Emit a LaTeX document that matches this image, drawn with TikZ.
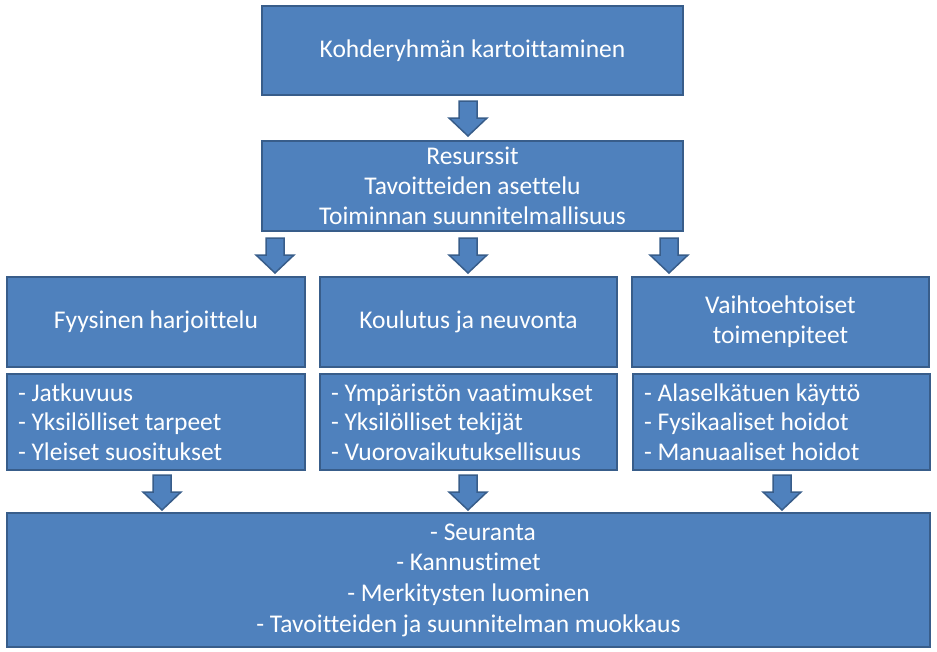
\documentclass[tikz,border=0pt]{standalone}
\usepackage{fontspec}
\setmainfont{Carlito}[Ligatures=CommonOff]
\usetikzlibrary{calc}
\definecolor{boxfill}{HTML}{4F81BD}
\definecolor{boxline}{HTML}{385D8A}
\begin{document}
\begin{tikzpicture}[x=1pt,y=-1pt,
  box/.style={draw=boxline, fill=boxfill, line width=2pt, text=white,
    font=\fontsize{25.5}{29.7}\selectfont, inner sep=0pt, align=center},
  listbox/.style={box, align=flush left, inner xsep=11pt, inner ysep=0pt},
  blockarrow/.pic={\draw[draw=boxline, fill=boxfill, line width=1.5pt, line join=miter]
    (-9,0)--(9,0)--(9,17)--(19,17)--(0,35)--(-19,17)--(-9,17)--cycle;}]
\useasboundingbox (0,0) rectangle (937,651);
% boxes
\node[box, minimum width=421pt, minimum height=89pt] (top) at (472.5,50.5) {Kohderyhmän kartoittaminen};
\node[box, minimum width=421pt, minimum height=90pt] (res) at (472.5,186) {Resurssit\\Tavoitteiden asettelu\\Toiminnan suunnitelmallisuus};
\node[box, minimum width=298pt, minimum height=90pt] (fa) at (156,322) {Fyysinen harjoittelu};
\node[box, minimum width=297pt, minimum height=90pt] (ka) at (468.5,322) {Koulutus ja neuvonta};
\node[box, minimum width=297pt, minimum height=90pt] (va) at (780.5,322) {Vaihtoehtoiset\\toimenpiteet};
\node[listbox, text width=276pt, minimum height=96pt] (fl) at (156,422) {- Jatkuvuus\\- Yksilölliset tarpeet\\- Yleiset suositukset};
\node[listbox, text width=275pt, minimum height=96pt] (kl) at (468.5,422) {- Ympäristön vaatimukset\\- Yksilölliset tekijät\\- Vuorovaikutuksellisuus};
\node[listbox, text width=275pt, minimum height=96pt] (vl) at (781.5,422) {- Alaselkätuen käyttö\\- Fysikaaliset hoidot\\- Manuaaliset hoidot};
\node[box, font=\fontsize{25.5}{30.7}\selectfont, minimum width=923pt, minimum height=134pt] (seur) at (468.5,580) {\hspace*{29pt}- Seuranta\\- Kannustimet\\- Merkitysten luominen\\- Tavoitteiden ja suunnitelman muokkaus};
% block arrows
\pic at ($(top.south)+(-4.5,5)$) {blockarrow};
\pic at ($(res.south west)+(14,6)$) {blockarrow};
\pic at ($(res.south)+(-4.5,6)$) {blockarrow};
\pic at ($(res.south east)+(-15,6)$) {blockarrow};
\pic at ($(fl.south)+(6,4)$) {blockarrow};
\pic at ($(kl.south)+(-0.5,4)$) {blockarrow};
\pic at ($(vl.south)+(0.5,4)$) {blockarrow};
\end{tikzpicture}
\end{document}
